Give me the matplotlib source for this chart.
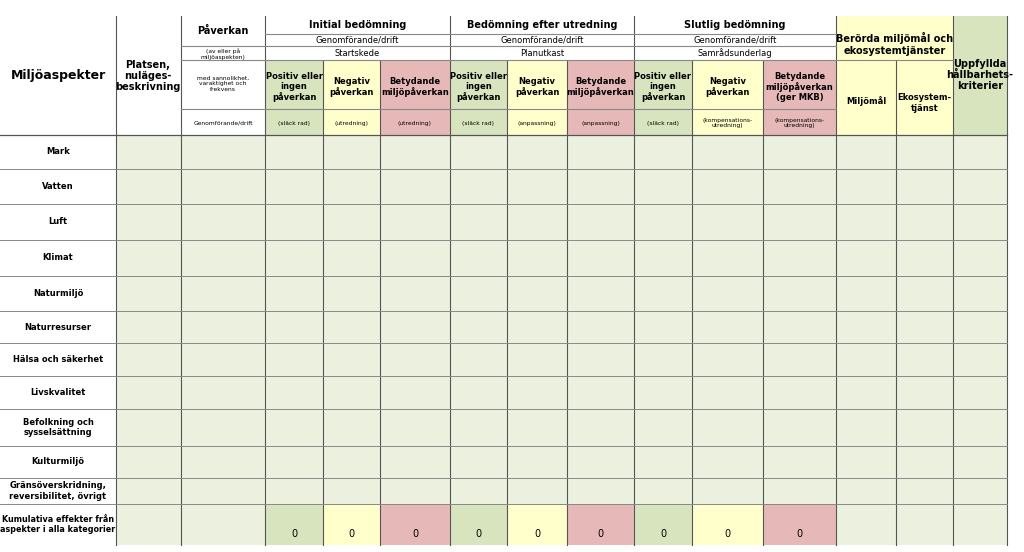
import matplotlib
matplotlib.use("Agg")
import matplotlib.pyplot as plt
from matplotlib.patches import Rectangle

aspects = ["Mark", "Vatten", "Luft", "Klimat", "Naturmiljö", "Naturresurser",
           "Hälsa och säkerhet", "Livskvalitet", "Befolkning och\nsysselsättning",
           "Kulturmiljö", "Gränsöverskridning,\nreversibilitet, övrigt",
           "Kumulativa effekter från\naspekter i alla kategorier"]
phases = ["Initial bedömning", "Bedömning efter utredning", "Slutlig bedömning"]
stages = ["Startskede", "Planutkast", "Samrådsunderlag"]
sub_labels = [["Positiv eller\ningen\npåverkan", "Negativ\npåverkan", "Betydande\nmiljöpåverkan"],
              ["Positiv eller\ningen\npåverkan", "Negativ\npåverkan", "Betydande\nmiljöpåverkan"],
              ["Positiv eller\ningen\npåverkan", "Negativ\npåverkan", "Betydande\nmiljöpåverkan\n(ger MKB)"]]
actions = [["(släck rad)", "(utredning)", "(utredning)"],
           ["(släck rad)", "(anpassning)", "(anpassning)"],
           ["(släck rad)", "(kompensations-\nutredning)", "(kompensations-\nutredning)"]]
cumulative = [0, 0, 0, 0, 0, 0, 0, 0, 0]

# layout (pixels)
X = [0, 116, 181, 265, 323, 380, 450, 507, 567, 634, 692, 763, 836, 896, 953, 1007]
Y = [135, 169, 204, 240, 276, 311, 343, 376, 409, 446, 478, 504, 545]
H = [16, 34, 46, 60, 109, 135]
GREEN, YEL, PINK, BODY = "#d7e4bd", "#ffffcc", "#e6b9b8", "#ebf1de"
ccol = [GREEN, YEL, PINK]

fig = plt.figure(figsize=(10.24, 5.52), dpi=100)
ax = fig.add_axes([0, 0, 1, 1])
ax.set_xlim(0, 1024); ax.set_ylim(552, 0); ax.axis("off")
F = "DejaVu Sans"

def rect(x0, y0, x1, y1, c):
    ax.add_patch(Rectangle((x0, y0), x1 - x0, y1 - y0, color=c, lw=0, zorder=0))

def txt(x, y, s, size, bold=False, **kw):
    ax.text(x, y, s, ha="center", va="center", fontsize=size,
            fontweight="bold" if bold else "normal", family=F, linespacing=1.15, **kw)

for r in range(len(aspects)):
    for c in range(1, 15):
        col = BODY
        if r == len(aspects) - 1 and 3 <= c <= 11:
            col = ccol[(c - 3) % 3]
        rect(X[c], Y[r], X[c + 1], Y[r + 1], col)
for p in range(3):
    for k in range(3):
        c = 3 + 3 * p + k
        rect(X[c], H[3], X[c + 1], H[5], ccol[k])
rect(X[12], H[0], X[14], H[5], YEL)
rect(X[14], H[0], X[15], H[5], GREEN)

txt(58, 75, "Miljöaspekter", 9, True)
txt(148, 76, "Platsen,\nnuläges-\nbeskrivning", 7, True)
txt(223, 31, "Påverkan", 7, True)
txt(223, 54, "(av eller på\nmiljöaspekten)", 4.3)
txt(223, 84, "med sannolikhet,\nvaraktighet och\nfrekvens", 4.3)
txt(223, 123, "Genomförande/drift", 4.3)
for p in range(3):
    xa, xb = X[3 + 3 * p], X[6 + 3 * p]
    txt((xa + xb) / 2, 25, phases[p], 7, True)
    txt((xa + xb) / 2, 40, "Genomförande/drift", 6)
    txt((xa + xb) / 2, 53, stages[p], 6)
    for k in range(3):
        c = 3 + 3 * p + k
        xm = (X[c] + X[c + 1]) / 2
        txt(xm, 87, sub_labels[p][k], 6, True)
        txt(xm, 123, actions[p][k], 4.3)
txt((X[12] + X[14]) / 2, 44, "Berörda miljömål och\nekosystemtjänster", 7, True)
txt((X[12] + X[13]) / 2, 101, "Miljömål", 6, True)
txt((X[13] + X[14]) / 2, 103, "Ekosystem-\ntjänst", 6, True)
txt((X[14] + X[15]) / 2, 75, "Uppfyllda\nhållbarhets-\nkriterier", 7, True)

for r, a in enumerate(aspects):
    txt(58, (Y[r] + Y[r + 1]) / 2, a, 5.8 if r == len(aspects) - 1 else 6, True)
for i, v in enumerate(cumulative):
    c = 3 + i
    txt((X[c] + X[c + 1]) / 2, 534, str(v), 7)

LC, LG = "#555555", "#888888"
inner = {4, 5, 7, 8, 10, 11, 13}
for i in range(1, len(X)):
    y0 = H[3] if i in inner else H[0]
    ax.plot([X[i], X[i]], [y0, Y[-1]], color=LC, lw=0.8)
for y in Y[1:-1]:
    ax.plot([0, X[-1]], [y, y], color=LG, lw=0.7)
ax.plot([0, X[-1]], [Y[0], Y[0]], color=LC, lw=0.9)
for y in H[1:3]:
    ax.plot([X[3], X[12]], [y, y], color=LG, lw=0.8)
ax.plot([X[2], X[3]], [H[2], H[2]], color=LG, lw=0.8)
ax.plot([X[2], X[12]], [H[3], H[3]], color=LG, lw=0.8)
ax.plot([X[2], X[12]], [H[4], H[4]], color=LG, lw=0.8)
ax.plot([X[12], X[14]], [H[3], H[3]], color=LG, lw=0.8)

fig.savefig("out.png", dpi=100)
